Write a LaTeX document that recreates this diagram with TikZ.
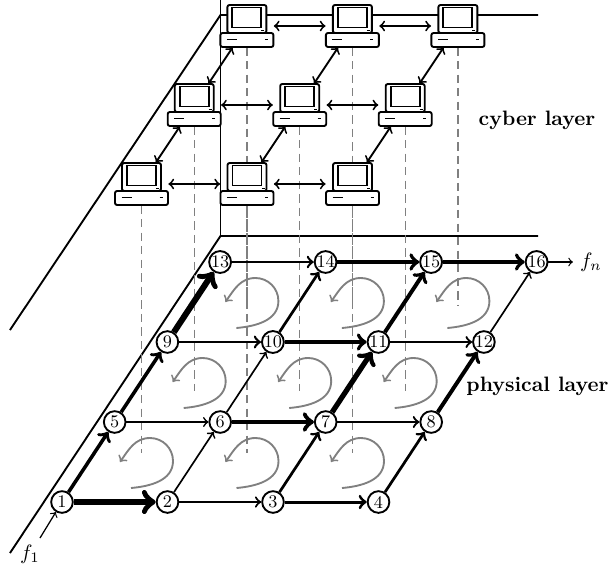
\documentclass[tikz,border=0pt]{standalone}
\usetikzlibrary{calc,backgrounds}

\tikzset{
  vertex/.style={circle,draw,line width=0.9pt,fill=white,inner sep=0pt,minimum size=10.4pt,
    font=\fontsize{8.5}{9}\selectfont},
  plane/.style={line width=0.9pt},
  link/.style={<->,line width=0.9pt},
  drop/.style={gray,line width=0.6pt,dash pattern=on 4pt off 2.5pt},
  swirl/.style={->,gray,line width=0.9pt},
  layer/.style={font=\bfseries},
  pics/pc/.style={code={
    \node[minimum width=25.4pt,minimum height=20.2pt,inner sep=0pt] (-box) {};
    \begin{scope}[line width=0.9pt]
      \filldraw[fill=white,rounded corners=1pt] (-26.5,-21) rectangle (26.5,-7);
      \draw (-20,-13.5) -- (-10,-13.5);
      \draw (18,-13.5) -- (21,-13.5);
      \filldraw[fill=white,rounded corners=1pt] (-19.5,-7) rectangle (19.5,21);
      \draw (-14.5,-1.5) rectangle (14.5,18.5);
      \draw (14.5,-4.5) -- (17.5,-4.5);
    \end{scope}
  }}
}

\begin{document}
\begin{tikzpicture}[x=0.48pt,y=0.48pt]
  \useasboundingbox (0,0) rectangle (615,569);

  % cyber layer
  \foreach \j in {0,1,2}
    \foreach \i in {0,1,2}
      \pic (pc\i\j) at (141.5+105.5*\i+52.7*\j, 385+79*\j) {pc};
  \foreach \j in {0,1,2}
    \foreach \i/\k in {0/1,1/2} {
      \draw[link] (pc\i\j-box) -- (pc\k\j-box);
      \draw[link] (pc\j\i-box) -- (pc\j\k-box);
    }

  \begin{scope}[on background layer]
    % the two layers
    \draw[plane] (10,16) -- (220.5,333) -- (538,333);
    \draw[plane] (10,239) -- (220.5,554) -- (538,554);
    \draw[plane] (220.5,569) -- (220.5,333);
    % drops
    \foreach \j/\e in {0/116,1/178,2/264}
      \foreach \i in {0,1,2} {
        \coordinate (drop\i\j) at (141.5+105.5*\i+52.7*\j, \e);
        \draw[drop] (pc\i\j-box.south) -- (drop\i\j);
      }
  \end{scope}

  % loops
  \foreach \j in {0,1,2}
    \foreach \i in {0,1,2} {
      \coordinate (cell\i\j) at (141+105.5*\i+52.7*\j, 107+80*\j);
      \draw[swirl] ($(cell\i\j)+(-10,-26)$) to[out=5,in=-90] ++(42,27)
        to[out=90,in=0] ++(-23,23) to[out=180,in=55] ++(-30,-24);
    }

  % physical layer
  \foreach \j in {0,...,3}
    \foreach \i in {0,...,3} {
      \pgfmathtruncatemacro{\n}{1+\i+4*\j}
      \node[vertex] (v\n) at (62+105.5*\i+52.7*\j, 67+80*\j) {\n};
    }
  \foreach \a/\b/\w in {1/2/2.9, 2/3/1.0, 3/4/1.45,
      5/6/0.8, 6/7/2.25, 7/8/1.1,
      9/10/1.25, 10/11/1.9, 11/12/1.1,
      13/14/1.2, 14/15/1.9, 15/16/1.9,
      1/5/1.7, 5/9/1.7, 9/13/2.9,
      2/6/0.8, 6/10/0.8, 10/14/1.3,
      3/7/1.3, 7/11/2.5, 11/15/1.9,
      4/8/1.3, 8/12/1.9, 12/16/0.8}
    \draw[->,line width=\w pt] (v\a) -- (v\b);

  % flows in and out
  \node (f1) at (30,15) {$f_1$};
  \coordinate (f1in) at (40,31);
  \draw[->,line width=0.6pt] (f1in) -- (v1);
  \node (fn) at (591,307) {$f_n$};
  \draw[->,line width=0.6pt] (v16) -- (fn);

  \node[layer] (cyber) at (537,449) {cyber layer};
  \node[layer] (phys) at (537.5,183) {physical layer};
\end{tikzpicture}
\end{document}
